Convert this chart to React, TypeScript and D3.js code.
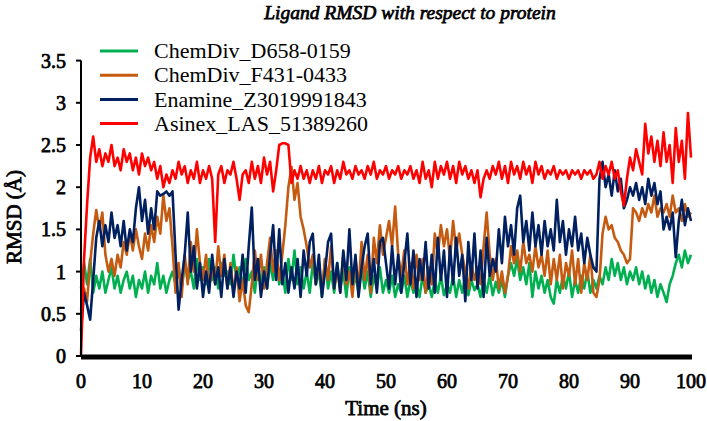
import React from "react";
import * as d3 from "d3";

const seriesNames = ["ChemDiv_D658-0159", "ChemDiv_F431-0433", "Enamine_Z3019991843", "Asinex_LAS_51389260"];
const seriesColors = ["#00B050", "#C55A11", "#002060", "#FF0000"];
const yTicks = [0, 0.5, 1, 1.5, 2, 2.5, 3, 3.5];
const xTicks = [0, 10, 20, 30, 40, 50, 60, 70, 80, 90, 100];
const timeStep = 0.5;

// each row = 5 ns (10 samples), last single value at 100 ns
const greenD658 = [
  0.8, 1.1, 0.85, 1.15, 0.75, 0.95, 0.8, 1.0, 0.75, 0.9,
  1.05, 0.8, 0.95, 0.75, 0.9, 1.0, 0.8, 0.95, 0.7, 0.9,
  0.8, 1.0, 0.75, 0.95, 0.85, 1.1, 0.8, 0.95, 0.75, 0.9,
  1.0, 0.85, 1.05, 0.8, 1.1, 0.9, 1.0, 0.8, 1.15, 0.9,
  1.05, 0.85, 1.15, 0.9, 1.05, 0.8, 1.1, 0.95, 1.0, 0.85,
  1.2, 0.9, 1.05, 0.8, 1.15, 0.9, 1.0, 0.75, 1.1, 0.85,
  1.05, 0.8, 1.1, 0.9, 1.2, 0.85, 1.0, 0.75, 1.15, 0.9,
  1.25, 0.85, 1.05, 0.8, 1.0, 0.75, 1.1, 0.85, 1.0, 0.7,
  1.15, 0.8, 1.0, 0.75, 1.1, 0.8, 1.0, 0.7, 1.05, 0.8,
  0.95, 0.75, 1.05, 0.8, 1.0, 0.7, 0.95, 0.8, 1.05, 0.75,
  0.9, 0.75, 0.95, 0.7, 0.85, 0.75, 0.95, 0.7, 0.9, 0.75,
  0.85, 0.7, 0.95, 0.75, 0.85, 0.7, 0.9, 0.75, 0.95, 0.72,
  0.85, 0.75, 0.95, 0.7, 0.9, 0.75, 0.95, 0.72, 0.9, 0.78,
  0.85, 0.7, 0.9, 0.75, 0.95, 0.72, 0.88, 0.75, 0.9, 0.7,
  0.95, 1.1, 0.95, 1.15, 0.9, 1.05, 0.85, 1.1, 0.7, 1.0,
  0.8, 0.95, 0.75, 0.9, 0.7, 0.62, 0.9, 0.75, 0.95, 0.8,
  1.0, 0.7, 0.9, 0.75, 0.95, 0.8, 1.0, 0.75, 0.9, 0.8,
  0.95, 0.85, 1.05, 0.9, 1.15, 0.95, 1.1, 0.9, 1.05, 0.85,
  1.0, 0.9, 1.05, 0.85, 1.0, 0.8, 0.95, 0.75, 0.9, 0.7,
  0.85, 0.75, 0.64, 0.85, 0.95, 1.1, 1.2, 1.05, 1.25, 1.1,
  1.2,
];

const orangeF431 = [
  0.55, 0.8, 0.65, 1.1, 1.45, 1.73, 1.5, 1.7, 1.2, 1.0,
  1.15, 0.95, 1.2, 1.05, 1.35, 1.2, 1.45, 1.25, 1.5, 1.3,
  1.15, 1.45, 1.25, 1.55, 1.35, 1.65, 1.45, 1.9, 1.6, 1.75,
  1.3, 0.75, 1.1, 0.7, 1.2, 0.85, 1.35, 1.0, 1.5, 1.1,
  0.9, 1.2, 0.8, 1.05, 0.85, 1.3, 0.95, 1.2, 0.8, 1.1,
  0.75, 1.05, 0.65, 0.9, 0.6, 0.52, 0.85, 1.25, 0.9, 1.2,
  0.8, 1.1, 1.4, 1.0, 1.25, 0.9, 1.2, 1.55, 2.0, 2.24,
  1.85, 2.05, 1.65, 1.5, 1.3, 1.05, 1.2, 0.85, 1.1, 0.75,
  1.15, 0.9, 1.3, 0.8, 1.05, 0.75, 1.2, 0.85, 1.0, 0.7,
  1.15, 0.8, 1.35, 0.9, 1.2, 0.75, 1.4, 1.1, 1.55, 1.2,
  1.4, 1.6, 1.3, 1.77, 1.2, 0.95, 1.25, 0.85, 1.1, 0.8,
  1.2, 0.9, 1.15, 0.75, 1.05, 0.85, 1.45, 1.2, 1.55, 1.3,
  1.5, 1.15, 1.6, 1.25, 1.45, 1.2, 1.0, 0.8, 1.1, 0.9,
  1.05, 0.85, 1.3, 1.7, 1.2, 0.9, 1.15, 0.8, 1.0, 0.75,
  0.95, 1.3, 1.1, 1.25, 1.0, 1.35, 1.1, 1.2, 1.0, 1.3,
  1.05, 1.2, 0.95, 1.25, 0.85, 1.15, 0.9, 1.2, 0.8, 1.1,
  0.95, 1.25, 0.85, 1.15, 0.75, 1.1, 0.9, 1.2, 0.75, 0.7,
  0.9, 1.45, 1.65, 1.5, 1.55, 1.4, 1.35, 1.25, 1.2, 1.1,
  1.15, 1.75, 1.7, 1.6, 1.75, 1.65, 1.8, 1.7, 1.9, 1.65,
  1.75, 1.7, 1.8, 1.65, 1.9, 1.7, 1.75, 1.6, 1.8, 1.65,
  1.7,
];

const navyZ3019 = [
  0.3, 0.75, 0.6, 0.43, 0.9, 1.4, 1.6, 1.3, 1.55, 1.35,
  1.7, 1.4, 1.55, 1.3, 1.6, 1.25, 1.5, 1.35, 1.75, 2.0,
  1.6, 1.85, 1.45, 1.75, 1.5, 1.95, 1.9, 1.92, 1.95, 1.9,
  1.95, 1.2, 0.55, 0.9, 1.2, 1.7, 1.0, 1.3, 0.8, 1.1,
  0.7, 1.0, 0.75, 1.2, 0.85, 1.05, 0.7, 1.15, 0.8, 1.05,
  0.7, 1.0, 0.8, 1.2, 0.75, 1.3, 1.76, 0.9, 1.15, 0.7,
  1.0, 0.8, 1.2, 1.55, 0.9, 1.5, 0.85, 1.1, 0.75, 1.05,
  0.8, 1.15, 0.7, 1.25, 0.95, 1.35, 1.45, 0.85, 1.2, 0.7,
  1.0, 1.35, 1.45, 0.8, 1.1, 0.75, 1.25, 0.9, 1.5, 0.85,
  1.2, 0.7, 1.05, 1.3, 1.45, 0.85, 1.15, 0.75, 1.35, 1.4,
  1.1, 0.8, 1.3, 0.85, 1.2, 0.75, 1.1, 1.45, 0.85, 1.25,
  0.7, 1.15, 0.9, 1.35, 0.8, 1.2, 0.75, 1.4, 0.9, 1.25,
  0.7, 1.3, 0.85, 1.4, 0.95, 1.2, 0.65, 1.35, 0.9, 1.45,
  0.8, 1.25, 0.7, 1.4, 0.95, 1.15, 1.0, 1.5, 1.1, 1.65,
  1.3, 1.55, 1.2, 1.75, 1.9, 1.35, 1.6, 1.25, 1.7, 1.3,
  1.55, 1.2, 1.6, 1.3, 1.5, 1.25, 1.85, 1.35, 1.6, 1.2,
  1.5, 1.3, 1.65, 1.25, 1.45, 1.1, 1.4, 1.2, 1.05, 1.0,
  2.1, 2.3, 2.0, 2.15, 1.9, 2.2, 1.95, 2.1, 1.75, 1.85,
  2.0, 1.9, 2.05, 1.85, 2.0, 1.8, 2.1, 1.9, 2.05, 1.8,
  1.95, 1.5, 1.65, 1.5, 1.7, 1.17, 1.6, 1.85, 1.55, 1.75,
  1.6,
];

const redLAS = [
  0.0, 1.15, 1.8, 2.35, 2.6, 2.3, 2.45, 2.25, 2.4, 2.3,
  2.5, 2.25, 2.35, 2.2, 2.45, 2.3, 2.4, 2.2, 2.35, 2.15,
  2.4, 2.25, 2.35, 2.2, 2.3, 2.1, 2.25, 2.0, 2.15, 2.05,
  2.2, 2.1, 2.3, 2.15, 2.25, 2.05, 2.2, 2.1, 2.3, 2.05,
  2.2, 2.1, 2.25, 2.1, 1.35, 2.15, 2.25, 2.05, 2.2, 2.15,
  2.3, 2.1, 1.85, 2.15, 2.2, 2.05, 2.3, 2.1, 2.25, 2.05,
  2.35, 2.15, 2.3, 1.95, 2.2, 2.5, 2.52, 2.52, 2.5, 2.05,
  2.2, 2.1, 2.25, 2.1, 2.2, 2.05, 2.2, 2.1, 2.25, 2.05,
  2.2, 2.15, 2.25, 2.05, 2.2, 2.1, 2.3, 2.15, 2.2, 2.1,
  2.25, 2.15, 2.2, 2.1, 2.25, 2.15, 2.3, 2.1, 2.2, 2.15,
  2.25, 2.1, 2.2, 2.15, 2.25, 2.1, 2.2, 2.15, 2.25, 2.1,
  2.2, 2.05, 2.3, 2.1, 2.2, 2.0, 2.3, 2.1, 2.25, 2.15,
  2.3, 2.1, 2.25, 2.05, 2.3, 2.15, 2.25, 2.1, 2.2, 2.05,
  2.2, 1.88, 2.1, 2.2, 2.1, 2.25, 2.15, 2.3, 2.1, 2.25,
  2.05, 2.3, 2.15, 2.25, 2.1, 2.3, 2.15, 2.25, 2.05, 2.3,
  2.15, 2.25, 2.1, 2.2, 2.15, 2.25, 2.1, 2.2, 2.15, 2.2,
  2.1, 2.2, 2.15, 2.2, 2.1, 2.2, 2.15, 2.2, 2.1, 2.15,
  2.3, 2.1, 2.25, 2.15, 2.3, 2.1, 2.2, 1.95, 1.78, 2.1,
  2.35, 2.2, 2.45, 2.3, 2.15, 2.75, 2.4, 2.6, 2.3, 2.55,
  2.25, 2.65, 2.3, 2.5, 2.05, 2.7, 2.3, 2.55, 2.1, 2.88,
  2.35,
];

const allSeries = [greenD658, orangeF431, navyZ3019, redLAS];

export default function App() {
  const W = 707;
  const H = 421;
  const x = d3.scaleLinear().domain([0, 100]).range([81, 691]);
  const y = d3.scaleLinear().domain([0, 3.5]).range([356, 60.6]);
  const line = d3
    .line<number>()
    .x((_, i) => x(i * timeStep))
    .y((v) => y(v));
  const font = "'Liberation Serif', 'Times New Roman', serif";
  // faux-bold: regular serif with a thin outline of the same colour
  const bold = { stroke: "#000", strokeWidth: 0.75, paintOrder: "fill" } as const;

  return (
    <svg width={W} height={H} style={{ position: "absolute", left: 0, top: 0, background: "#fff" }} fontFamily={font}>
      <rect x={0} y={0} width={W} height={H} fill="#fff" />
      {/* title */}
      <text x={410} y={19} textAnchor="middle" fontSize={19.5} fontStyle="italic" {...bold}>
        Ligand RMSD with respect to protein
      </text>
      {/* data lines */}
      {allSeries.map((s, k) => (
        <path key={k} d={line(s) || ""} fill="none" stroke={seriesColors[k]} strokeWidth={2.6} strokeLinejoin="round" />
      ))}
      {/* y axis */}
      <line x1={x(0)} x2={x(0)} y1={y(3.5)} y2={y(0)} stroke="#000" strokeWidth={2} />
      {yTicks.map((t) => (
        <g key={t}>
          <line x1={x(0) - 5} x2={x(0)} y1={y(t)} y2={y(t)} stroke="#000" strokeWidth={2} />
          <text x={66} y={y(t)} dy="0.35em" textAnchor="end" fontSize={20} {...bold}>
            {t}
          </text>
        </g>
      ))}
      {/* x axis */}
      <line x1={x(0)} x2={x(100) + 1} y1={y(0) + 1} y2={y(0) + 1} stroke="#000" strokeWidth={5} />
      {xTicks.map((t) => (
        <text key={t} x={x(t)} y={381} dy="0.35em" textAnchor="middle" fontSize={20} {...bold}>
          {t}
        </text>
      ))}
      <text x={386} y={408} dy="0.35em" textAnchor="middle" fontSize={21} {...bold}>
        Time (ns)
      </text>
      <text
        transform={`translate(14,217) rotate(-90)`}
        dy="0.35em"
        textAnchor="middle"
        fontSize={21}
        {...bold}
      >
        RMSD (Å)
      </text>
      {/* legend */}
      {seriesNames.map((n, k) => (
        <g key={n}>
          <line x1={100} x2={138} y1={51 + k * 24.2} y2={51 + k * 24.2} stroke={seriesColors[k]} strokeWidth={3} />
          <text x={154} y={51 + k * 24.2} dy="0.33em" fontSize={22}>
            {n}
          </text>
        </g>
      ))}
    </svg>
  );
}
